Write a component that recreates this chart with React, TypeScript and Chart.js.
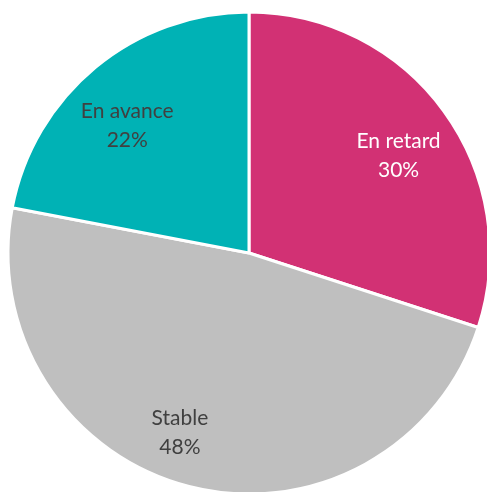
import React, { useEffect, useRef } from "react";
import { Chart, registerables } from "chart.js";

Chart.register(...registerables);

const categories = ["En retard", "Stable", "En avance"];
const values = [30, 48, 22];
const percentLabels = ["30%", "48%", "22%"];
const colors = ["#D23174", "#BFBFBF", "#00B2B5"];
const labelColors = ["#FFFFFF", "#404040", "#404040"];
// label placement tweaks (angle offset in degrees, radius fraction)
const labelAngleOffset = [3, 6.6, -4.2];
const labelRadiusFrac = [0.74, 0.8, 0.73];

const labelPlugin = {
  id: "sliceLabels",
  afterDatasetsDraw(chart: any) {
    const ctx = chart.ctx;
    const meta = chart.getDatasetMeta(0);
    ctx.save();
    ctx.font = "21px Lato, 'Open Sans', sans-serif";
    ctx.textAlign = "center";
    ctx.textBaseline = "middle";
    meta.data.forEach((arc: any, i: number) => {
      const mid = (arc.startAngle + arc.endAngle) / 2 + (labelAngleOffset[i] * Math.PI) / 180;
      const r = arc.outerRadius * labelRadiusFrac[i];
      const x = arc.x + Math.cos(mid) * r;
      const y = arc.y + Math.sin(mid) * r;
      ctx.fillStyle = labelColors[i];
      ctx.fillText(categories[i], x, y - 14.5);
      ctx.fillText(percentLabels[i], x, y + 14.5);
    });
    ctx.restore();
  },
};

export default function App() {
  const ref = useRef<HTMLCanvasElement>(null);
  useEffect(() => {
    if (!ref.current) return;
    const chart = new Chart(ref.current, {
      type: "pie",
      data: {
        labels: categories,
        datasets: [
          {
            data: values,
            backgroundColor: colors,
            borderColor: "#FFFFFF",
            borderWidth: 3,
            hoverOffset: 0,
          },
        ],
      },
      options: {
        responsive: false,
        animation: false,
        radius: 241,
        layout: { padding: 0 },
        plugins: {
          legend: { display: false },
          tooltip: { enabled: false },
        },
        events: [],
      } as any,
      plugins: [labelPlugin],
    });
    return () => chart.destroy();
  }, []);
  return (
    <div
      style={{
        position: "fixed",
        left: 0,
        top: 0,
        width: 487,
        height: 492,
        overflow: "hidden",
        background: "#FFFFFF",
      }}
    >
      <canvas ref={ref} width={498} height={506} style={{ width: 498, height: 506, display: "block" }} />
    </div>
  );
}
